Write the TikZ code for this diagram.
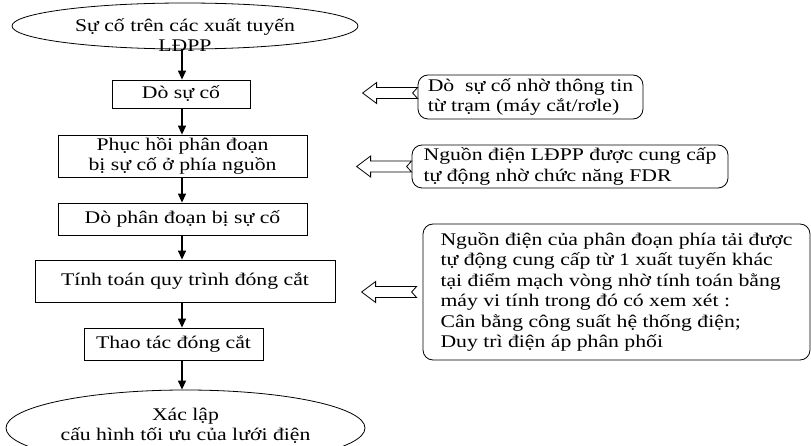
\documentclass[tikz,border=0pt]{standalone}
\usepackage{fontspec}
\setmainfont{Liberation Serif}[FakeStretch=1.22]
\usetikzlibrary{shapes.geometric,arrows.meta,calc}
\tikzset{
  stepbox/.style={draw, line width=0.8pt, inner sep=0pt, align=center},
  endshape/.style={draw, ellipse, line width=0.8pt, inner sep=0pt},
  notebox/.style={draw, line width=0.8pt, rounded corners=10pt, inner sep=0pt, align=left},
  flow/.style={-{Triangle[length=9pt,width=8pt]}, line width=1.3pt},
  hollow/.style={draw, line width=0.8pt, fill=white, line join=miter},
}
\newcommand{\hollowarrow}[1]{%
  \draw[hollow] #1 ++(0,-5.5) -- ++(-41,0) -- ++(0,-5) -- ++(-14,10.5) -- ++(14,10.5)
    -- ++(0,-5) -- ++(41,0) -- ++(-5,-5.5) -- cycle;}
\begin{document}
\begin{tikzpicture}[x=1pt, y=-1pt, font=\fontsize{17.8}{20.4}\selectfont]
\useasboundingbox (0,0) rectangle (811,446);
\clip (0,0) rectangle (811,446);

% main flow
\node[endshape, minimum width=346, minimum height=46,
  label={[align=center, yshift=-9pt]center:Sự cố trên các xuất tuyến\\LĐPP}] (e1) at (185,26) {};
\node[stepbox, minimum width=138, minimum height=28] (b1) at (181,94) {Dò sự cố};
\node[stepbox, minimum width=249, minimum height=42] (b2) at (182.5,156) {Phục hồi phân đoạn\\bị sự cố ở phía nguồn};
\node[stepbox, minimum width=249, minimum height=32] (b3) at (182.5,219) {Dò phân đoạn bị sự cố};
\node[stepbox, minimum width=300, minimum height=42] (b4) at (185,281) {Tính toán quy trình đóng cắt};
\node[stepbox, minimum width=179, minimum height=32] (b5) at (173.5,344) {Thao tác đóng cắt};
\node[endshape, minimum width=359, minimum height=76,
  label={[align=center, yshift=2pt]center:Xác lập\\cấu hình tối ưu của lưới điện}] (e2) at (185.5,428) {};

\coordinate (ax) at (182,0);
\draw[flow] (ax |- e1.south) -- (ax |- b1.north);
\draw[flow] (ax |- b1.south) -- (ax |- b2.north);
\draw[flow] (ax |- b2.south) -- (ax |- b3.north);
\draw[flow] (ax |- b3.south) -- (ax |- b4.north);
\draw[flow] (ax |- b4.south) -- (ax |- b5.north);
\draw[flow] (ax |- b5.south) -- (ax |- e2.north);

% notes
\node[notebox, minimum width=225, minimum height=44] (r1) at (530.5,97) {Dò\ \ sự cố nhờ thông tin\\từ trạm (máy cắt/rơle)};
\node[notebox, minimum width=316, minimum height=43] (r2) at (570,166.5) {Nguồn điện LĐPP được cung cấp\\tự động nhờ chức năng FDR};
\node[notebox, minimum width=387, minimum height=136] (r3) at (616.5,292) {Nguồn điện của phân đoạn phía tải được\\tự động cung cấp từ 1 xuất tuyến khác\\tại điểm mạch vòng nhờ tính toán bằng\\máy vi tính trong đó có xem xét :\\Cân bằng công suất hệ thống điện;\\Duy trì điện áp phân phối};

\hollowarrow{($(r1.west)+(0,-4)$)}
\hollowarrow{(r2.west)}
\hollowarrow{($(r3.west)+(-6,0)$)}
\end{tikzpicture}
\end{document}
